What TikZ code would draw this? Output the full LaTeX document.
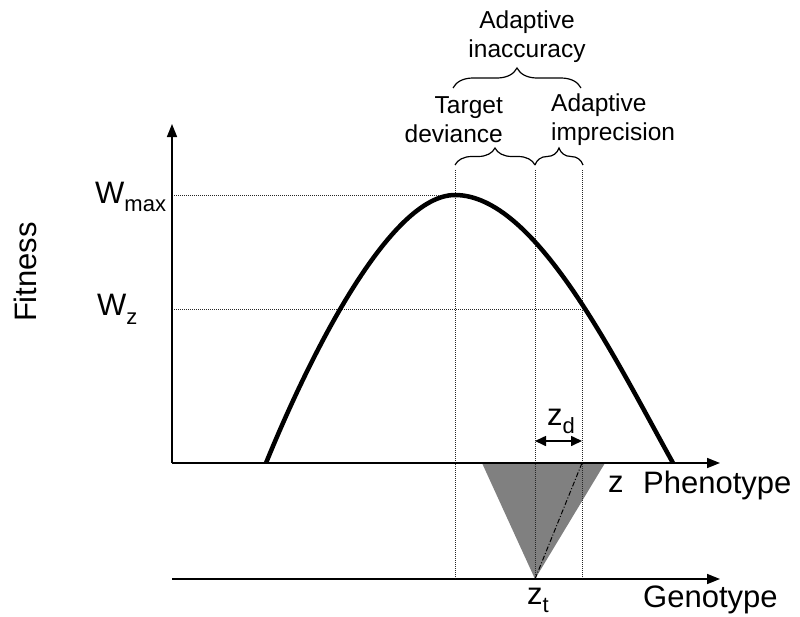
\documentclass[tikz,border=0pt]{standalone}
\usepackage{fontspec}
\setmainfont{Liberation Sans}
\usetikzlibrary{arrows.meta, decorations.pathreplacing}

\newcommand{\lowsub}[2][8pt]{\raisebox{-#1}{\fontsize{22}{22}\selectfont #2}}

\begin{document}
\begin{tikzpicture}[x=1pt, y=-1pt,
  axis/.style={line width=1.6pt, -{Triangle[length=13pt, width=10pt]}},
  guide/.style={line width=0.9pt, dash pattern=on 0.9pt off 1.1pt, black!85},
  bigtxt/.style={font=\fontsize{31}{36}\selectfont, inner sep=0pt},
  smalltxt/.style={font=\fontsize{24.5}{29}\selectfont, inner sep=0pt},
  curlyb/.style={decorate, decoration={brace, amplitude=#1}, line width=1.2pt}]
  \useasboundingbox (0,0) rectangle (800,616);

  % ── key points ──
  \coordinate (origin) at (172,463);
  \coordinate (ytip)   at (172,124);
  \coordinate (ptip)   at (720,463);
  \coordinate (gstart) at (172,579);
  \coordinate (gtip)   at (720,579);
  \coordinate (lfoot)  at (266,463);
  \coordinate (peak)   at (455,195);
  \coordinate (rfoot)  at (673,463);
  \coordinate (wzpt)   at (582,309);
  \coordinate (zt)     at (535,579);
  \coordinate (zp)     at (582,463);

  % ── selection band (gray wedge) ──
  \fill[black!50] (482,463) -- (605,463) -- (zt) -- cycle;
  \draw[line width=1pt, dash pattern=on 5pt off 2pt on 1pt off 2pt] (zt) -- (zp);

  % ── guide lines ──
  \draw[guide] (174,195) -- (peak);
  \draw[guide] (174,309) -- (wzpt);
  \foreach \gx in {455, 535, 582}
    \draw[guide] (\gx,170) -- (\gx,579);

  % ── axes ──
  \draw[axis] (origin) -- (ytip);
  \draw[axis] (origin) -- (ptip);
  \draw[axis] (gstart) -- (gtip);

  % ── fitness curve ──
  \draw[line width=4.5pt]
    (lfoot) .. controls (310,355) and (390,195) .. (peak)
            .. controls (535,195) and (613,355) .. (rfoot);

  % ── deviation arrow ──
  \draw[line width=1.6pt, {Triangle[length=11pt, width=10pt]}-{Triangle[length=11pt, width=10pt]}]
    (535,441) -- (582,441);
  \node[bigtxt, anchor=base west] (zd) at (547,425) {z\lowsub{d}};

  % ── braces ──
  \draw[curlyb=20pt] (453,88) -- (581,88);
  \draw[curlyb=17pt] (455,165) -- (535,165);
  \draw[curlyb=17pt] (535,165) -- (583,165);
  \node[smalltxt, align=center] (inacc) at (527,37) {Adaptive\\inaccuracy};
  \node[smalltxt, align=right, anchor=east] (tdev) at (503,120) {Target\\deviance};
  \node[smalltxt, align=left, anchor=west] (aimp) at (551,120) {Adaptive\\imprecision};

  % ── axis labels ──
  \node[bigtxt, rotate=90] (fit) at (25,272) {Fitness};
  \node[bigtxt, anchor=base west] (wmax) at (95,203) {W\lowsub{max}};
  \node[bigtxt, anchor=base west] (wz) at (97,315) {W\lowsub[9pt]{z}};
  \node[bigtxt, anchor=base west] (zlab) at (608,492) {z};
  \node[bigtxt, anchor=base west] (phen) at (643,493) {Phenotype};
  \node[bigtxt, anchor=base west] (gen) at (643,607) {Genotype};
  \node[bigtxt, anchor=base west] (ztlab) at (527,604) {z\lowsub{t}};
\end{tikzpicture}
\end{document}
